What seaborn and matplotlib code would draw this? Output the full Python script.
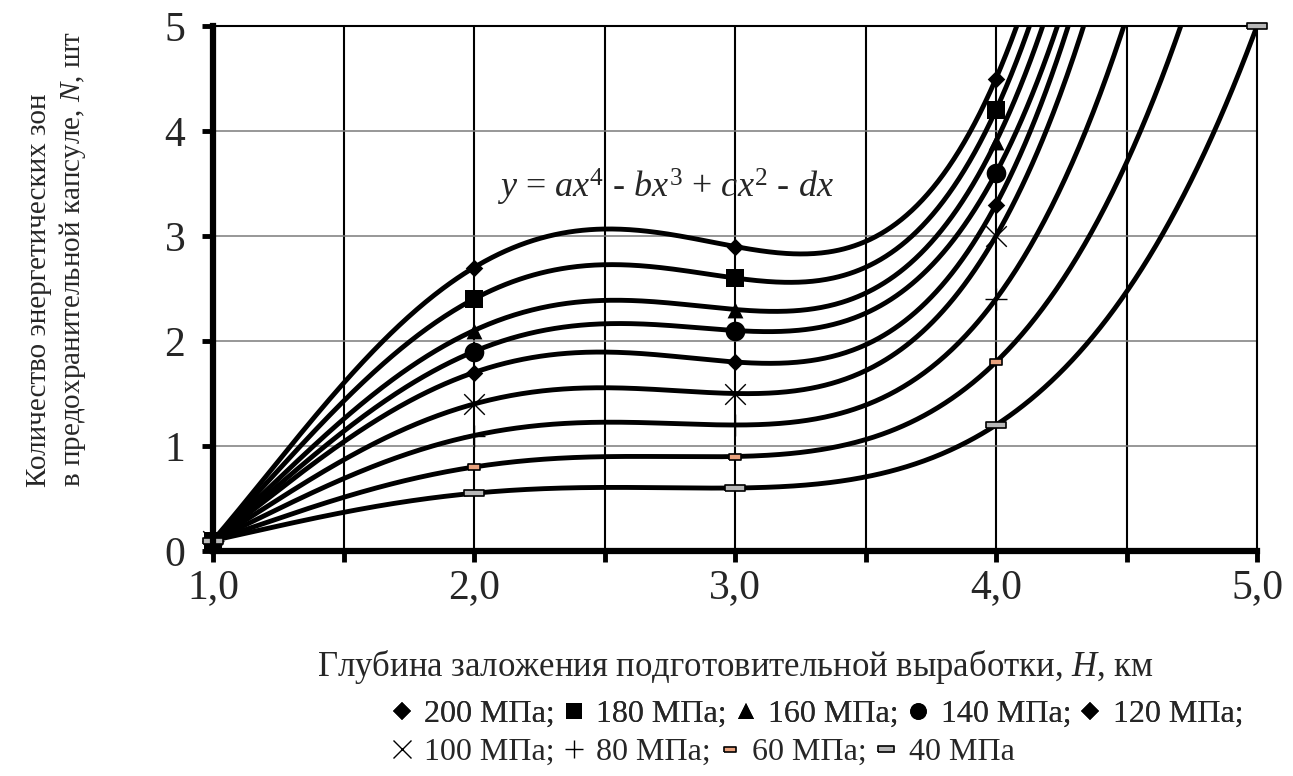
import numpy as np
import matplotlib
matplotlib.use("Agg")
import matplotlib.pyplot as plt
import seaborn as sns
from matplotlib.lines import Line2D
from matplotlib.ticker import FixedLocator

# ---------------- data ----------------
depth = [1.0, 2.0, 3.0, 4.0]
depth_40 = [1.0, 2.0, 3.0, 4.0, 5.0]
n_200 = [0.1, 2.7, 2.9, 4.5]
n_180 = [0.1, 2.4, 2.6, 4.2]
n_160 = [0.1, 2.1, 2.3, 3.9]
n_140 = [0.1, 1.9, 2.1, 3.6]
n_120 = [0.1, 1.7, 1.8, 3.3]
n_100 = [0.1, 1.4, 1.5, 3.0]
n_80 = [0.1, 1.1, 1.2, 2.4]
n_60 = [0.1, 0.8, 0.9, 1.8]
n_40 = [0.1, 0.55, 0.6, 1.2, 5.0]
series_labels = ["200 МПа;", "180 МПа;", "160 МПа;", "140 МПа;", "120 МПа;",
                 "100 МПа;", "80 МПа;", "60 МПа;", "40 МПа"]
x_ticks = [1.0, 1.5, 2.0, 2.5, 3.0, 3.5, 4.0, 4.5, 5.0]
x_tick_labels = ["1,0", "", "2,0", "", "3,0", "", "4,0", "", "5,0"]
y_ticks = [0, 1, 2, 3, 4, 5]
y_tick_labels = ["0", "1", "2", "3", "4", "5"]

# ---------------- style ----------------
sns.set_style("white")
plt.rcParams['font.family'] = ['Liberation Serif', 'DejaVu Serif']
plt.rcParams['mathtext.fontset'] = 'custom'
plt.rcParams['mathtext.rm'] = 'Liberation Serif'
plt.rcParams['mathtext.it'] = 'Liberation Serif:italic'
TICK_FS = 30
XLAB_FS = 25
YLAB_FS = 21
LEG_FS = 23
EQ_FS = 26

rect_long = [(-1, -0.32), (1, -0.32), (1, 0.32), (-1, 0.32), (-1, -0.32)]
rect_short = [(-1, -0.45), (1, -0.45), (1, 0.45), (-1, 0.45), (-1, -0.45)]

series = [
    (depth, n_200, dict(marker='D', s=80, fc='black', ec='black', lw=0)),
    (depth, n_180, dict(marker='s', s=150, fc='black', ec='black', lw=0)),
    (depth, n_160, dict(marker='^', s=130, fc='black', ec='black', lw=0)),
    (depth, n_140, dict(marker='o', s=200, fc='black', ec='black', lw=0)),
    (depth, n_120, dict(marker='D', s=80, fc='black', ec='black', lw=0)),
    (depth, n_100, dict(marker='x', s=220, fc='black', ec='black', lw=1.0)),
    (depth, n_80, dict(marker='+', s=260, fc='black', ec='black', lw=1.0)),
    (depth, n_60, dict(marker=rect_short, s=80, fc='#e9a27e', ec='black', lw=1.2)),
    (depth_40, n_40, dict(marker=rect_long, s=200, fc='#b8b8b8', ec='black', lw=1.2)),
]

fig = plt.figure(figsize=(12.93, 7.76), dpi=100)
ax = fig.add_axes([213/1293, 1-551/776, (1257-213)/1293, (551-26)/776])

# grid
for xv in x_ticks[1:-1]:
    ax.axvline(xv, color='black', lw=1.5, zorder=1)
for yv in y_ticks[1:-1]:
    ax.axhline(yv, color='#7a7a7a', lw=1.1, zorder=1)

# polynomial trend lines y = ax^4 + bx^3 + cx^2 + dx fitted to the markers
xs = np.linspace(1.0, 5.0, 600)
for xd, yd, mk in series:
    xd_a = np.asarray(xd)
    A = np.vstack([xd_a**4, xd_a**3, xd_a**2, xd_a]).T
    coef, *_ = np.linalg.lstsq(A, np.asarray(yd), rcond=None)
    fit = coef[0]*xs**4 + coef[1]*xs**3 + coef[2]*xs**2 + coef[3]*xs
    sns.lineplot(x=xs, y=fit, color='black', lw=3.5, ax=ax, sort=False,
                 estimator=None, zorder=3)

for xd, yd, mk in series:
    m = dict(mk)
    ax.scatter(xd, yd, marker=m['marker'], s=m['s'], facecolors=m['fc'],
               edgecolors=m['ec'], linewidths=m['lw'], zorder=4, clip_on=False)

ax.set_xlim(1, 5)
ax.set_ylim(0, 5)
ax.xaxis.set_major_locator(FixedLocator(x_ticks))
ax.set_xticklabels(x_tick_labels)
ax.yaxis.set_major_locator(FixedLocator(y_ticks))
ax.set_yticklabels(y_tick_labels)
ax.tick_params(axis='x', direction='out', length=8, width=3.5, pad=5,
               labelsize=TICK_FS, bottom=True, color='black')
ax.tick_params(axis='y', direction='out', length=8, width=3.5, pad=12,
               labelsize=TICK_FS, left=True, color='black')

for side in ['left', 'bottom']:
    ax.spines[side].set_linewidth(4.5)
    ax.spines[side].set_color('black')
for side in ['top', 'right']:
    ax.spines[side].set_linewidth(1.5)
    ax.spines[side].set_color('black')
ax.spines['left'].set_zorder(5)
ax.spines['bottom'].set_zorder(5)

ax.text(2.09, 3.46, r"$y$ = $ax^{4}$ - $bx^{3}$ + $cx^{2}$ - $dx$",
        fontsize=EQ_FS, va='center', ha='left', zorder=6)

fig.text(735/1293, 1-667/776,
         "Глубина заложения подготовительной выработки, $H$, км",
         fontsize=XLAB_FS, ha='center', va='center')
fig.text(57/1293, 1-487/776,
         "Количество энергетических зон\nв предохранительной капсуле, $N$, шт",
         fontsize=YLAB_FS, rotation=90, ha='center', va='bottom',
         multialignment='left', linespacing=1.25)

# legend (two rows)
def handle(mk, ms):
    m = mk
    if m['marker'] in ('x', '+'):
        return Line2D([], [], ls='none', marker=m['marker'], ms=ms,
                      mec='black', mew=1.0)
    return Line2D([], [], ls='none', marker=m['marker'], ms=ms,
                  mfc=m['fc'], mec=m['ec'], mew=m['lw'] if m['lw'] else 0)

leg_ms = [9, 11, 11, 12, 9, 13, 13, 8, 12]
handles = [handle(s[2], ms) for s, ms in zip(series, leg_ms)]
leg_kw = dict(frameon=False, fontsize=LEG_FS, handlelength=0.6, handletextpad=0.4,
              columnspacing=0.3, borderpad=0, borderaxespad=0, loc='center left')
l1 = fig.legend(handles[:5], series_labels[:5], ncol=5,
                bbox_to_anchor=(392/1293, 1-714/776), **leg_kw)
fig.add_artist(l1)
fig.legend(handles[5:], series_labels[5:], ncol=4,
           bbox_to_anchor=(392/1293, 1-752/776), **leg_kw)

fig.savefig("out.png", dpi=100)
